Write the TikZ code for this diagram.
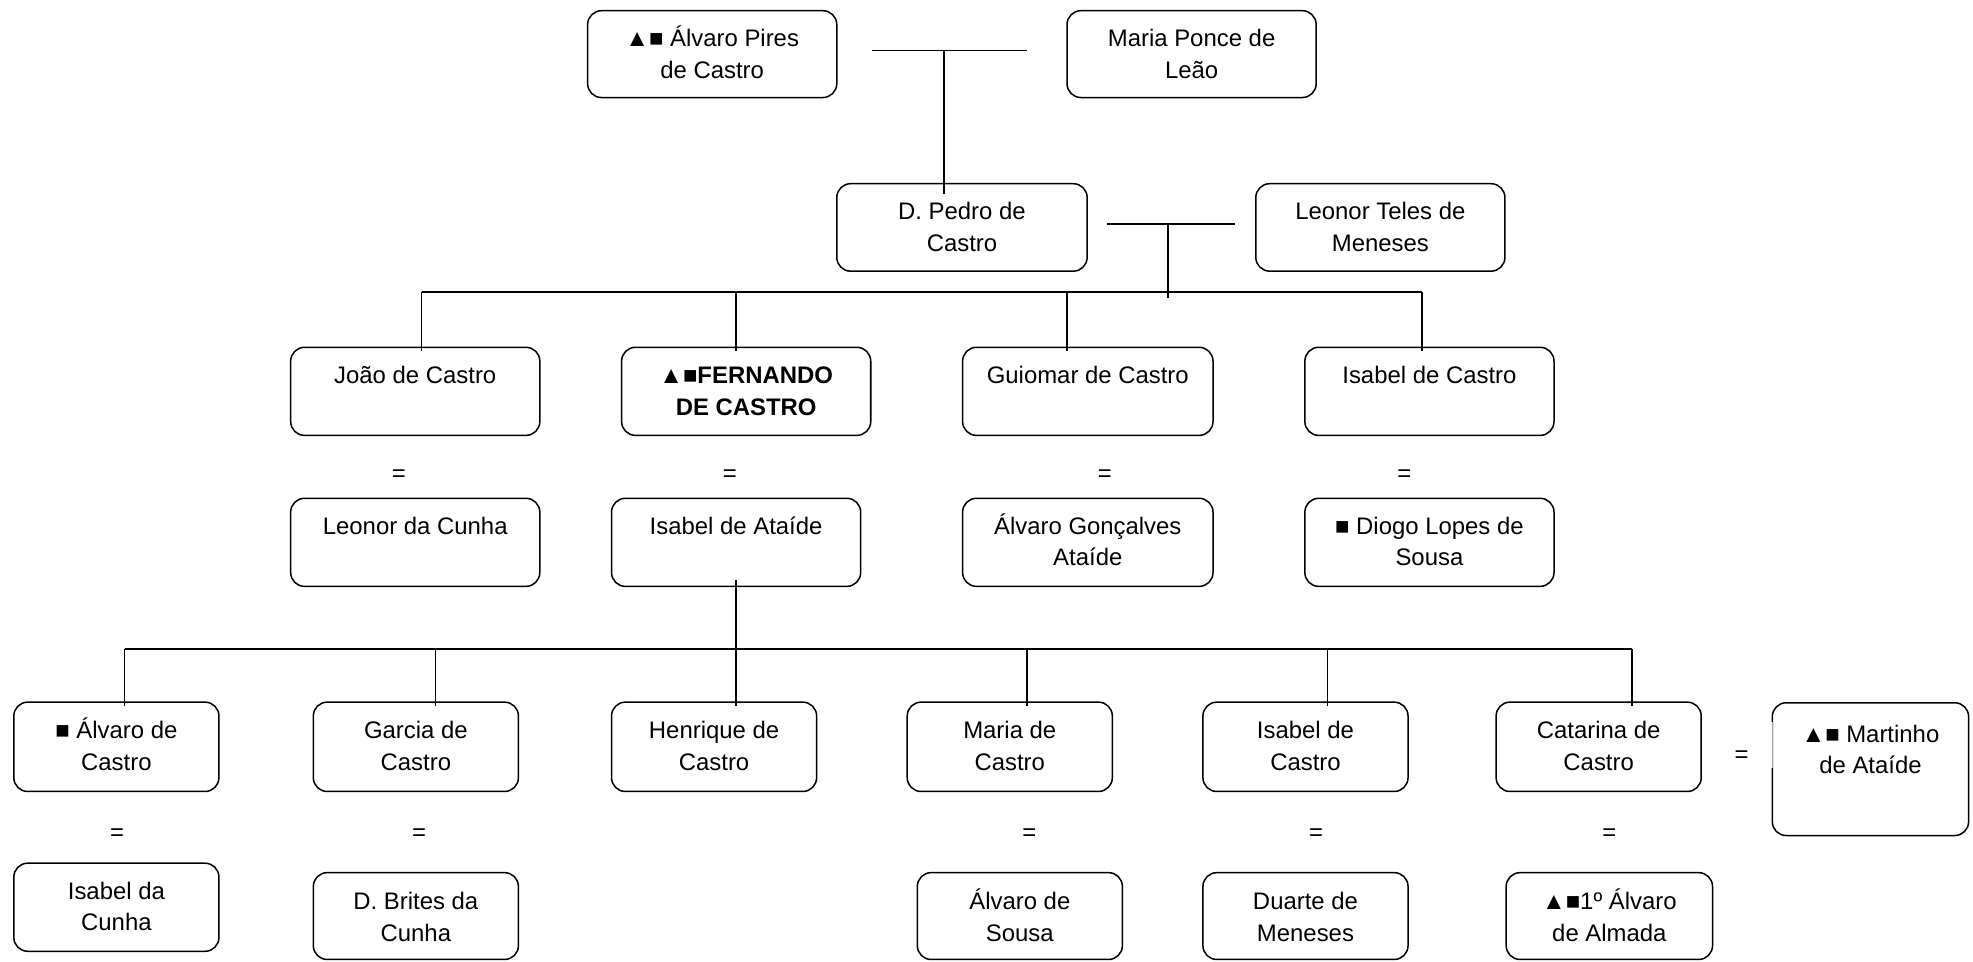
\documentclass[tikz,border=0pt]{standalone}
\usepackage{fontspec}
\setmainfont{Liberation Sans}
\usetikzlibrary{calc}

\tikzset{
  pbox/.style={draw=black, line width=1.2pt, rounded corners=11pt,
    inner sep=0pt, outer sep=0pt},
  ptext/.style={inner sep=0pt, outer sep=0pt,
    font=\fontsize{19}{25}\selectfont},
  eqs/.style={inner sep=0pt, anchor=base, font=\fontsize{19}{25}\selectfont},
  link/.style={draw=black, line width=1.3pt},
}

% \person[baseline offset]{name}{x1}{y1}{x2}{y2}{text}
\newcommand{\person}[7][29]{%
  \node[pbox, minimum width={(#5-#3)*1pt}, minimum height={(#6-#4)*1pt}]
    (#2) at ({(#3+#5)/2},{(#4+#6)/2}) {};
  \node[ptext, anchor=base] (#2-t) at ({(#3+#5)/2},{#4+#1})
    {\parbox[t]{\dimexpr#5pt-#3pt\relax}{\centering #7}};
}

\begin{document}
\begin{tikzpicture}[x=1pt,y=-1pt]
\useasboundingbox (0,0) rectangle (1568,764);

% first generation
\person[28.5]{alvaroPires}{467}{8.5}{665}{77.5}{▲■ Álvaro Pires\\de Castro}
\person[28.5]{mariaPonce}{848}{8.5}{1046}{77.5}{Maria Ponce de\\Leão}

% second generation
\person[28.5]{pedro}{665}{146}{864}{215.5}{D. Pedro de\\Castro}
\person[28.5]{leonorTeles}{998}{146}{1196}{215.5}{Leonor Teles de\\Meneses}

% children of D. Pedro
\person{joao}{231}{276}{429}{346}{João de Castro}
\person{fernando}{494}{276}{692}{346}{\bfseries ▲■FERNANDO\\DE CASTRO}
\person{guiomar}{765}{276}{964}{346}{Guiomar de Castro}
\person{isabelC}{1037}{276}{1235}{346}{Isabel de Castro}

% their spouses
\person[28.5]{leonorCunha}{231}{396}{429}{466}{Leonor da Cunha}
\person[28.5]{isabelAtaide}{486}{396}{684}{466}{Isabel de Ataíde}
\person[28.5]{alvaroGoncalves}{765}{396}{964}{466}{Álvaro Gonçalves\\Ataíde}
\person[28.5]{diogo}{1037}{396}{1235}{466}{■ Diogo Lopes de\\Sousa}

% children of Fernando de Castro
\person{alvaroCastro}{11}{558}{174}{629}{■ Álvaro de\\Castro}
\person{garcia}{249}{558}{412}{629}{Garcia de\\Castro}
\person{henrique}{486}{558}{649}{629}{Henrique de\\Castro}
\person{maria}{721}{558}{884}{629}{Maria de\\Castro}
\person{isabelE}{956}{558}{1119}{629}{Isabel de\\Castro}
\person{catarina}{1189}{558}{1352}{629}{Catarina de\\Castro}
\person[31.5]{martinho}{1408.5}{558.5}{1564.5}{664}{▲■ Martinho\\de Ataíde}
% faint stretch of the left border
\draw[white, line width=1.4pt] (martinho.west |- 0,574) -- (martinho.west |- 0,610);
\draw[black!35, line width=0.9pt] (martinho.west |- 0,574) -- (martinho.west |- 0,610);

% their spouses
\person[28.5]{isabelCunha}{11}{686}{174}{756}{Isabel da\\Cunha}
\person[29.5]{brites}{249}{693.5}{412}{762.5}{D. Brites da\\Cunha}
\person[29.5]{alvaroSousa}{729}{693.5}{892}{762.5}{Álvaro de\\Sousa}
\person[29.5]{duarte}{956}{693.5}{1119}{762.5}{Duarte de\\Meneses}
\person[29.5]{almada}{1197}{693.5}{1361}{762.5}{▲■1º Álvaro\\de Almada}

% marriage signs (placed on their baselines)
\node[eqs] (eqJoao) at (317,383) {=};
\node[eqs] (eqFernando) at (580,383) {=};
\node[eqs] (eqGuiomar) at (878,383) {=};
\node[eqs] (eqIsabelC) at (1116,383) {=};
\node[eqs] (eqAlvaro) at (93,668) {=};
\node[eqs] (eqGarcia) at (333,668) {=};
\node[eqs] (eqMaria) at (818,668) {=};
\node[eqs] (eqIsabelE) at (1046,668) {=};
\node[eqs] (eqCatarina) at (1279,668) {=};
\node[eqs] (eqMartinho) at (1384,606) {=};

% Álvaro Pires + Maria Ponce -> D. Pedro
\coordinate (m1L) at (693,40);
\coordinate (m1R) at (816,40);
\coordinate (m1) at (750,40);
\draw[link] (m1L) -- (m1R);
\draw[link] (m1) -- ($(m1 |- pedro.north)+(0,8)$);

% D. Pedro + Leonor Teles -> children
\coordinate (m2L) at (880,178);
\coordinate (m2R) at (981.5,178);
\coordinate (m2) at (928,178);
\draw[link] (m2L) -- (m2R);
\coordinate (b1L) at (335,232);
\coordinate (b1R) at (1130,232);
\coordinate (b1F) at (585,232);
\coordinate (b1G) at (848,232);
\draw[link] (m2) -- ($(m2 |- b1L)+(0,5)$);
\draw[link] (b1L) -- (b1R);
\draw[link] (b1L) -- ($(b1L |- joao.north)+(0,3)$);
\draw[link] (b1F) -- ($(b1F |- fernando.north)+(0,3)$);
\draw[link] (b1G) -- ($(b1G |- guiomar.north)+(0,3)$);
\draw[link] (b1R) -- ($(b1R |- isabelC.north)+(0,3)$);

% Fernando + Isabel de Ataíde -> children
\coordinate (b2L) at (99,516);
\coordinate (b2R) at (1297,516);
\coordinate (b2G) at (346,516);
\coordinate (b2M) at (816,516);
\coordinate (b2I) at (1055,516);
\draw[link] ($(isabelAtaide.south)+(0,-5)$) -- ($(henrique.north -| isabelAtaide.south)+(0,3)$);
\draw[link] (b2L) -- (b2R);
\draw[link] (b2L) -- ($(b2L |- alvaroCastro.north)+(0,3)$);
\draw[link] (b2G) -- ($(b2G |- garcia.north)+(0,3)$);
\draw[link] (b2M) -- ($(b2M |- maria.north)+(0,3)$);
\draw[link] (b2I) -- ($(b2I |- isabelE.north)+(0,3)$);
\draw[link] (b2R) -- ($(b2R |- catarina.north)+(0,3)$);
\end{tikzpicture}
\end{document}
